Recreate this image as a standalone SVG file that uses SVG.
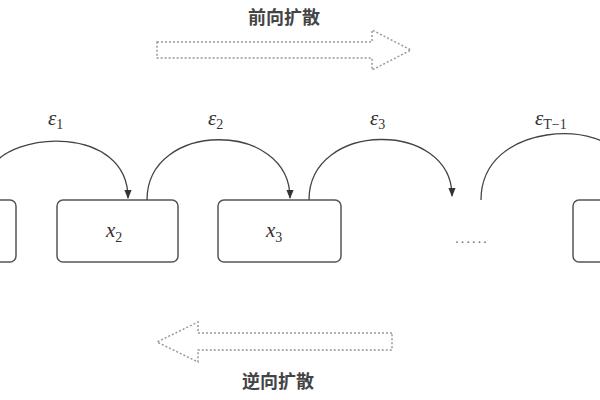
<svg xmlns="http://www.w3.org/2000/svg" width="600" height="400" viewBox="0 0 600 400">
<style>
.box{fill:#fff;stroke:#555;stroke-width:1.5}
.arc{fill:none;stroke:#444;stroke-width:1.3}
.big{fill:none;stroke:#999;stroke-width:1.5;stroke-dasharray:2 2}
.cn{font-family:"Noto Sans CJK SC",sans-serif;font-size:18px;font-weight:bold;fill:#444;text-anchor:middle}
.m{font-family:"Liberation Serif",serif;font-size:21px;fill:#333;font-style:italic}
.s{font-size:14px;font-style:normal}
</style>
<defs><marker id="ah" viewBox="0 0 10 10" refX="9" refY="5" markerWidth="7" markerHeight="7" orient="auto"><path d="M0,1 L10,5 L0,9z" fill="#333"/></marker></defs>
<rect width="600" height="400" fill="#fff"/>
<text class="cn" x="284" y="24">前向扩散</text>
<text class="cn" x="278" y="388">逆向扩散</text>
<path class="big" d="M157,42 H372 V30 L411,50 L372,70 V58 H157 Z"/>
<path class="big" d="M392,333 H198 V322 L157,342 L198,362 V350 H392 Z"/>
<g id="n1"><rect class="box" x="-20" y="200" width="36" height="62" rx="6"/></g>
<g id="n2"><rect class="box" x="57" y="200" width="121" height="62" rx="6"/><text class="m" x="106" y="237">x<tspan class="s" dy="5">2</tspan></text></g>
<g id="n3"><rect class="box" x="218" y="200" width="123" height="62" rx="6"/><text class="m" x="266" y="237">x<tspan class="s" dy="5">3</tspan></text></g>
<g id="dots"><text x="455" y="243" font-family="Liberation Sans,sans-serif" font-size="14" fill="#666" textLength="32">......</text></g>
<g id="n4"><rect class="box" x="573" y="200" width="60" height="62" rx="6"/></g>
<g id="connectors">
<path class="arc" d="M-10,170 C10,130 128,125 128,198" marker-end="url(#ah)"/>
<path class="arc" d="M147,200 C147,120 290,120 290,198" marker-end="url(#ah)"/>
<path class="arc" d="M309,200 C309,120 452,120 452,196" marker-end="url(#ah)"/>
<path class="arc" d="M481,200 C481,120 610,120 620,160"/>
</g>
<text class="m" x="48" y="125">ε<tspan class="s" dy="4">1</tspan></text>
<text class="m" x="208" y="125">ε<tspan class="s" dy="4">2</tspan></text>
<text class="m" x="370" y="125">ε<tspan class="s" dy="4">3</tspan></text>
<text class="m" x="535" y="125">ε<tspan class="s" dy="4" font-style="italic">T</tspan><tspan class="s" dy="0">−1</tspan></text>
</svg>
